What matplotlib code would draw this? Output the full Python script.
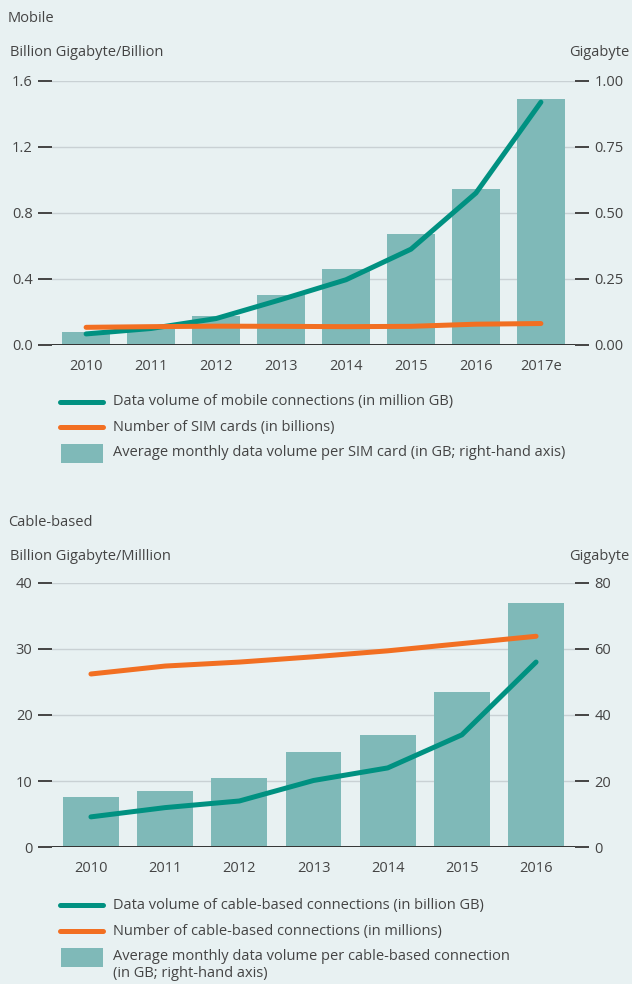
import matplotlib
matplotlib.use("Agg")
import matplotlib.pyplot as plt
from matplotlib.lines import Line2D
from matplotlib.patches import Rectangle
import numpy as np

# ---- data ----
mobile_years = ["2010", "2011", "2012", "2013", "2014", "2015", "2016", "2017e"]
mobile_volume = [0.067, 0.10, 0.16, 0.275, 0.395, 0.58, 0.92, 1.47]      # million GB
mobile_sims = [0.107, 0.111, 0.114, 0.113, 0.111, 0.113, 0.126, 0.130]   # billions
mobile_avg = [0.049, 0.072, 0.11, 0.189, 0.288, 0.421, 0.590, 0.931]     # GB, right axis

cable_years = ["2010", "2011", "2012", "2013", "2014", "2015", "2016"]
cable_volume = [4.6, 6.0, 7.0, 10.1, 12.0, 17.0, 28.0]                   # billion GB
cable_conns = [26.2, 27.4, 28.0, 28.8, 29.7, 30.8, 31.9]                 # millions
cable_avg = [15.2, 17.0, 21.0, 28.8, 34.0, 47.0, 73.8]                   # GB, right axis

mobile_left_ticks = [0.0, 0.4, 0.8, 1.2, 1.6]
mobile_right_ticks = [0.0, 0.25, 0.5, 0.75, 1.0]
cable_left_ticks = [0, 10, 20, 30, 40]
cable_right_ticks = [0, 20, 40, 60, 80]

# ---- style ----
BG = "#e8f1f2"
TEAL = "#009181"
ORANGE = "#f26f22"
BAR = "#7fb9b8"
TXT = "#444444"
GRID = "#c9d1d4"
FS = 10.5
plt.rcParams["font.family"] = ["Open Sans", "DejaVu Sans"]

W, H = 632, 984
fig = plt.figure(figsize=(W / 100, H / 100), dpi=100, facecolor=BG)


def px(x, y):
    return x / W, 1 - y / H


def panel(top, bottom, years, avg, vol, count, lticks, rticks, lfmt, rfmt):
    l, t = px(52, top)
    r, b = px(575, bottom)
    ax2 = fig.add_axes([l, b, r - l, t - b])
    ax = ax2.twinx()
    ax.set_zorder(ax2.get_zorder() + 1)
    ax.patch.set_visible(False)
    ax2.set_facecolor(BG)
    x = np.arange(len(years))
    ax2.bar(x, avg, width=0.75, color=BAR, zorder=2)
    ax2.set_ylim(rticks[0], rticks[-1])
    ax.set_ylim(lticks[0], lticks[-1])
    ax2.set_yticks(rticks)
    ax2.set_yticklabels([rfmt.format(v) for v in rticks])
    ax.set_yticks(lticks)
    ax.set_yticklabels([lfmt.format(v) for v in lticks])
    for a in (ax, ax2):
        for s in a.spines.values():
            s.set_visible(False)
        a.set_xlim(-0.525, len(years) - 1 + 0.525)
    ax.tick_params(axis="y", left=True, labelleft=True, right=False, labelright=False,
                   direction="out", length=10, width=1.4, color="#444444",
                   labelcolor=TXT, labelsize=FS, pad=4)
    ax2.tick_params(axis="y", left=False, labelleft=False, right=True, labelright=True,
                    direction="out", length=10, width=1.4, color="#444444",
                    labelcolor=TXT, labelsize=FS, pad=4)
    for v in rticks[1:]:
        ax2.axhline(v, color=GRID, lw=1.0, zorder=1)
    ax2.axhline(0, color="#333333", lw=1.4, zorder=3)
    ax2.set_xticks(x)
    ax2.set_xticklabels(years)
    ax2.tick_params(axis="x", length=0, pad=10, labelcolor=TXT, labelsize=FS)
    ax.plot(x, vol, color=TEAL, lw=3.6, solid_capstyle="round", solid_joinstyle="round")
    ax.plot(x, count, color=ORANGE, lw=3.6, solid_capstyle="round", solid_joinstyle="round")
    return ax, ax2


panel(80.7, 345, mobile_years, mobile_avg, mobile_volume, mobile_sims,
      mobile_left_ticks, mobile_right_ticks, "{:.1f}", "{:.2f}")
panel(582.7, 847.3, cable_years, cable_avg, cable_volume, cable_conns,
      cable_left_ticks, cable_right_ticks, "{:d}", "{:d}")


def text(x, y, s, **kw):
    fig.text(*px(x, y), s, color=TXT, fontsize=FS, va="center", **kw)


text(8, 18, "Mobile")
text(10, 52, "Billion Gigabyte/Billion")
text(629, 52, "Gigabyte", ha="right")
text(8, 523, "Cable-based")
text(10, 557, "Billion Gigabyte/Milllion")
text(629, 557, "Gigabyte", ha="right")


def legend(rows, labels):
    y1, y2, y3 = rows
    for y, c in ((y1, TEAL), (y2, ORANGE)):
        fig.add_artist(Line2D([px(60, y)[0], px(103, y)[0]], [px(0, y)[1]] * 2,
                              color=c, lw=3.6, solid_capstyle="round"))
    x0, yb = px(61, y3 + 9.5)
    fig.add_artist(Rectangle((x0, yb), 42 / W, 19 / H, color=BAR, lw=0))
    text(113, y1, labels[0])
    text(113, y2, labels[1])
    fig.text(*px(113, y3 - 8), labels[2], color=TXT, fontsize=FS, va="top",
             linespacing=1.22)


legend((402, 427, 453),
       ["Data volume of mobile connections (in million GB)",
        "Number of SIM cards (in billions)",
        "Average monthly data volume per SIM card (in GB; right-hand axis)"])
legend((905, 931, 957),
       ["Data volume of cable-based connections (in billion GB)",
        "Number of cable-based connections (in millions)",
        "Average monthly data volume per cable-based connection\n(in GB; right-hand axis)"])

fig.savefig("out.png", dpi=100, facecolor=BG)
